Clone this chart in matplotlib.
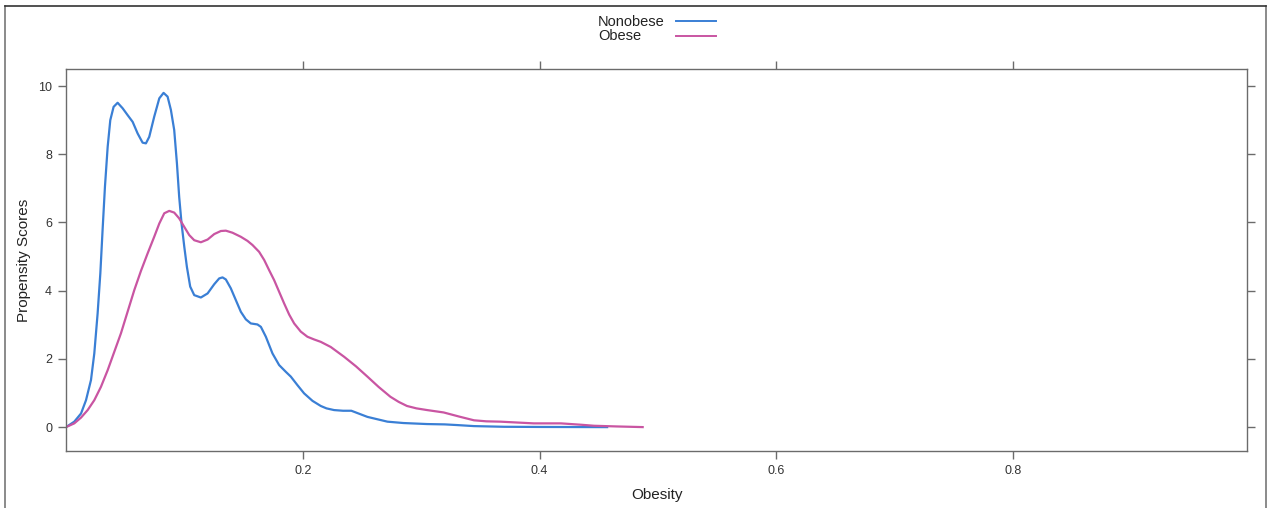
import matplotlib
matplotlib.use("Agg")
import matplotlib.pyplot as plt
from matplotlib.lines import Line2D

# ---- data ----
nonobese_x = [0.0, 0.007, 0.0127, 0.0169, 0.0211, 0.0239, 0.0267, 0.029, 0.0309, 0.0329,
              0.0352, 0.0374, 0.0402, 0.0436, 0.0478, 0.052, 0.0563, 0.0605, 0.0647, 0.0675,
              0.0703, 0.0745, 0.0788, 0.0824, 0.0858, 0.0886, 0.0914, 0.0937, 0.0956, 0.0976,
              0.0999, 0.1021, 0.1049, 0.1083, 0.1139, 0.1196, 0.1252, 0.1294, 0.1322, 0.135,
              0.1392, 0.1435, 0.1477, 0.1519, 0.1561, 0.1617, 0.1646, 0.1688, 0.1744, 0.18,
              0.1857, 0.1899, 0.1955, 0.2011, 0.2082, 0.2152, 0.22, 0.2264, 0.234, 0.241,
              0.2546, 0.2715, 0.285, 0.305, 0.32, 0.3305, 0.3446, 0.37, 0.40, 0.458]
nonobese_y = [0.0, 0.16, 0.40, 0.79, 1.38, 2.16, 3.33, 4.51, 5.78, 7.05,
              8.22, 9.00, 9.39, 9.51, 9.35, 9.15, 8.95, 8.61, 8.34, 8.32,
              8.51, 9.10, 9.64, 9.80, 9.69, 9.30, 8.71, 7.73, 6.75, 5.97,
              5.29, 4.70, 4.12, 3.87, 3.80, 3.92, 4.19, 4.36, 4.39, 4.33,
              4.07, 3.72, 3.38, 3.16, 3.04, 3.01, 2.94, 2.65, 2.16, 1.82,
              1.62, 1.48, 1.23, 0.99, 0.77, 0.62, 0.55, 0.50, 0.48, 0.48,
              0.30, 0.16, 0.12, 0.09, 0.08, 0.06, 0.03, 0.01, 0.005, 0.0]

obese_x = [0.0, 0.007, 0.0127, 0.0183, 0.0239, 0.0295, 0.0352, 0.0408, 0.0464, 0.052,
           0.0577, 0.0633, 0.0689, 0.0745, 0.0788, 0.083, 0.0872, 0.0914, 0.0956, 0.0999,
           0.1041, 0.1083, 0.1139, 0.1196, 0.1252, 0.1308, 0.135, 0.1406, 0.1477, 0.1533,
           0.1575, 0.1631, 0.1674, 0.1716, 0.1758, 0.18, 0.1842, 0.1885, 0.1927, 0.1983,
           0.2039, 0.2096, 0.2152, 0.2236, 0.235, 0.245, 0.2546, 0.264, 0.274, 0.281,
           0.288, 0.296, 0.305, 0.319, 0.332, 0.3446, 0.355, 0.367, 0.395, 0.418,
           0.435, 0.446, 0.465, 0.488]
obese_y = [0.0, 0.11, 0.28, 0.50, 0.79, 1.18, 1.67, 2.21, 2.75, 3.38,
           4.02, 4.58, 5.09, 5.58, 5.97, 6.27, 6.34, 6.29, 6.12, 5.87,
           5.63, 5.48, 5.42, 5.50, 5.66, 5.75, 5.76, 5.70, 5.58, 5.46,
           5.34, 5.14, 4.90, 4.60, 4.31, 3.97, 3.63, 3.30, 3.04, 2.80,
           2.65, 2.57, 2.50, 2.35, 2.06, 1.78, 1.48, 1.18, 0.89, 0.74,
           0.62, 0.55, 0.50, 0.43, 0.31, 0.20, 0.17, 0.16, 0.11, 0.11,
           0.07, 0.04, 0.02, 0.0]

series_names = ["Nonobese", "Obese"]
series_colors = ["#3a7fd5", "#c955a2"]
x_ticks = [0.2, 0.4, 0.6, 0.8]
x_ticklabels = ["0.2", "0.4", "0.6", "0.8"]
y_ticks = [0, 2, 4, 6, 8, 10]
y_ticklabels = ["0", "2", "4", "6", "8", "10"]

plt.rcParams['font.family'] = ['Liberation Sans', 'DejaVu Sans']

W, H = 1269, 508
fig = plt.figure(figsize=(W / 100, H / 100), dpi=100)
ax = fig.add_axes([66 / W, 1 - 451 / H, (1247 - 66) / W, (451 - 69) / H])

ax.plot(nonobese_x, nonobese_y, color=series_colors[0], lw=1.6,
        solid_joinstyle='round', solid_capstyle='butt')
ax.plot(obese_x, obese_y, color=series_colors[1], lw=1.6,
        solid_joinstyle='round', solid_capstyle='butt')

ax.set_xlim(0, 0.9975)
ax.set_ylim(-0.70, 10.50)

spine_col = "#6b6b6b"
for s in ax.spines.values():
    s.set_color(spine_col)
    s.set_linewidth(1.0)

ax.set_xticks(x_ticks)
ax.set_xticklabels(x_ticklabels)
ax.set_yticks(y_ticks)
ax.set_yticklabels(y_ticklabels)
ax.tick_params(axis='both', which='both', direction='out', length=6, width=1.0,
               color=spine_col, labelsize=9, labelcolor="#333333",
               top=True, right=True, labeltop=False, labelright=False, pad=4)

ax.set_xlabel("Obesity", fontsize=11, color="#222222", labelpad=8)
ax.set_ylabel("Propensity Scores", fontsize=11, color="#222222", labelpad=5)

# legend (text first, line after)
leg_rows = [22, 36.5]
for name, col, yy in zip(series_names, series_colors, leg_rows):
    fig.text(598 / W, 1 - yy / H, name, fontsize=10.5, color="#222222",
             ha='left', va='center')
    fig.add_artist(Line2D([676 / W, 716 / W], [1 - (yy - 1) / H, 1 - (yy - 1) / H],
                          color=col, lw=1.4, transform=fig.transFigure))

# outer frame (screenshot border)
fig.add_artist(Line2D([4.5 / W, 4.5 / W], [0, 1 - 6 / H], color="#777777", lw=1.2,
                      transform=fig.transFigure))
fig.add_artist(Line2D([1265.5 / W, 1265.5 / W], [0, 1 - 6 / H], color="#777777", lw=1.2,
                      transform=fig.transFigure))
fig.add_artist(Line2D([4.5 / W, 1265.5 / W], [1 - 6 / H, 1 - 6 / H], color="#333333", lw=1.2,
                      transform=fig.transFigure))

fig.savefig("out.png", dpi=100)
